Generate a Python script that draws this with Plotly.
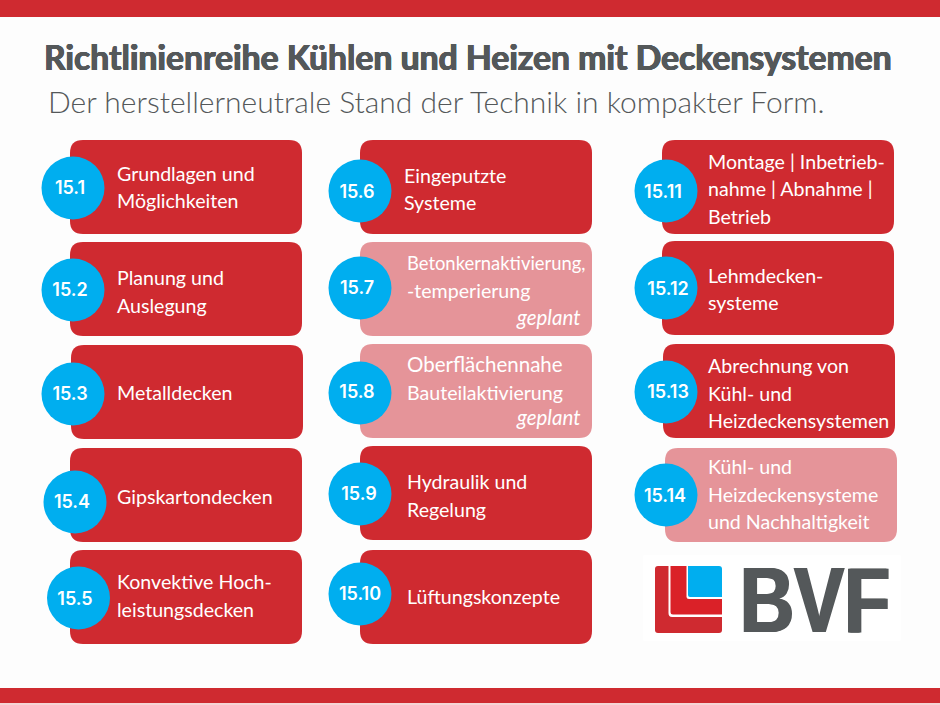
import plotly.graph_objects as go

title = "Richtlinienreihe Kühlen und Heizen mit Deckensystemen"
subtitle = "Der herstellerneutrale Stand der Technik in kompakter Form."

codes = ["15.1", "15.2", "15.3", "15.4", "15.5", "15.6", "15.7", "15.8", "15.9", "15.10",
         "15.11", "15.12", "15.13", "15.14"]
labels = [
    ["Grundlagen und", "Möglichkeiten"],
    ["Planung und", "Auslegung"],
    ["Metalldecken"],
    ["Gipskartondecken"],
    ["Konvektive Hoch-", "leistungsdecken"],
    ["Eingeputzte", "Systeme"],
    ["Betonkernaktivierung,", "-temperierung"],
    ["Oberflächennahe", "Bauteilaktivierung"],
    ["Hydraulik und", "Regelung"],
    ["Lüftungskonzepte"],
    ["Montage | Inbetrieb-", "nahme | Abnahme |", "Betrieb"],
    ["Lehmdecken-", "systeme"],
    ["Abrechnung von", "Kühl- und", "Heizdeckensystemen"],
    ["Kühl- und", "Heizdeckensysteme", "und Nachhaltigkeit"],
]
planned = [False, False, False, False, False, False, True, True, False, False,
           False, False, False, True]
planned_word = "geplant"

# layout of the sheet, in pixels
box_left = [70, 70, 71, 70, 70, 360, 360, 360, 360, 360, 662, 662, 663, 665]
box_top = [140, 242, 345, 448, 550, 140, 242, 344, 446, 550, 140, 241, 344, 448]
box_w, box_h = 232, 94
circle_x = [73, 73, 73, 75, 78.5, 360, 360, 360, 360, 360, 666, 666, 666, 666]
circle_y = [188, 290, 394, 502, 598, 191, 288, 393, 494, 594, 191, 288, 392, 495]
code_x = [70, 70, 70, 72, 75, 357, 357, 357, 359, 360, 663, 668, 668, 665]
code_y = [189, 291, 395, 503, 600, 193, 289, 393, 495, 595, 193, 290, 393, 497]
text_x = [116, 116, 116, 116, 116, 403, 406, 406, 406, 406, 707, 707, 707, 707]
text_y = [[173.3, 200.3], [277.3, 305.3], [392.3], [496.3], [581.3, 609.3], [175, 202.3], [263.3, 290],
          [364.3, 392.3], [481.3, 509.3], [596.3], [161.3, 188.3, 216.3], [275.3, 302.3],
          [365.3, 393.3, 420.3], [466.3, 494.3, 521.3]]
planned_y = {6: 317, 7: 417}
line_sizes = {"Betonkernaktivierung,": 18.4, "Oberflächennahe": 20.5}

RED = "#cf2a30"
PALE = "#e59499"
BLUE = "#00aeef"
GREY = "#54585a"
FONT = "Lato"


def rounded(x0, y0, x1, y1, r):
    return (f"M {x0+r} {y0} L {x1-r} {y0} Q {x1} {y0} {x1} {y0+r} L {x1} {y1-r} "
            f"Q {x1} {y1} {x1-r} {y1} L {x0+r} {y1} Q {x0} {y1} {x0} {y1-r} "
            f"L {x0} {y0+r} Q {x0} {y0} {x0+r} {y0} Z")


def filled(path, color):
    return dict(type="path", path=path, fillcolor=color, line_width=0, layer="below")


shapes = [filled(rounded(-14, 17, 954, 688, 14), "#fdfdfd"),
          dict(type="rect", x0=0, x1=940, y0=703, y1=705, fillcolor="#f6d5d6", line_width=0, layer="below")]
for i in range(len(codes)):
    color = PALE if planned[i] else RED
    shapes.append(filled(rounded(box_left[i], box_top[i], box_left[i] + box_w, box_top[i] + box_h, 13), color))

# logo
shapes += [
    filled(rounded(643, 555, 901, 641, 2), "#ffffff"),
    filled(rounded(655, 566, 722, 633, 3), "#cf2a30"),
    filled("M 668.5 566 L 722 566 L 722 617 L 672 617 Q 668.5 617 668.5 613 Z", "#ffffff"),
    filled("M 670.5 566 L 720 566 Q 722 566 722 568 L 722 614.5 L 673 614.5 Q 670.5 614.5 670.5 612 Z", "#da2128"),
    filled("M 686.5 566 L 722 566 L 722 599 L 689 599 Q 686.5 599 686.5 597 Z", "#ffffff"),
    filled("M 688 566 L 719 566 Q 722 566 722 569 L 722 597 L 690 597 Q 688 597 688 595 Z", BLUE),
]

annotations = []


def put(text, x, y, size, color, anchor="left", family=FONT, **font):
    annotations.append(dict(text=text, x=x, y=y, xref="x", yref="y", xanchor=anchor, yanchor="middle",
                            showarrow=False, borderpad=0,
                            font=dict(family=family, size=size, color=color, **font)))


thick = f"0.6px 0 0 {GREY}, -0.6px 0 0 {GREY}, 0 0.4px 0 {GREY}, 0 -0.4px 0 {GREY}"
put(title, 42.5, 56.5, 33.7, GREY, weight="bold", shadow=thick)
put(subtitle, 46.5, 101, 30, GREY, weight=300)
for i, lines in enumerate(labels):
    for line, y in zip(lines, text_y[i]):
        put(line, text_x[i], y, line_sizes.get(line, 19.6), "#ffffff")
    if i in planned_y:
        put(planned_word, 581, planned_y[i], 20.5, "#ffffff", anchor="right", style="italic")
put("BVF", 815, 600, 93, GREY, anchor="center", family="Liberation Sans", weight="bold",
    shadow=f"1.5px 0 0 {GREY}, -1.5px 0 0 {GREY}")

fig = go.Figure()
fig.add_trace(go.Scatter(x=circle_x, y=circle_y, mode="markers",
                         marker=dict(size=63, color=BLUE, line_width=0), hoverinfo="skip"))
fig.add_trace(go.Scatter(x=code_x, y=code_y, mode="text", text=codes, textposition="middle center",
                         textfont=dict(family="Inter", size=18, color="#ffffff", weight=600), hoverinfo="skip"))

fig.update_layout(
    width=940,
    height=705,
    margin=dict(l=0, r=0, t=0, b=0),
    paper_bgcolor=RED,
    plot_bgcolor=RED,
    showlegend=False,
    xaxis=dict(range=[0, 940], visible=False, fixedrange=True),
    yaxis=dict(range=[705, 0], visible=False, fixedrange=True),
    shapes=shapes,
    annotations=annotations,
)

# the logo lettering is narrower than any installed bold
squeeze = """
document.body.style.margin = '0';
document.querySelectorAll('.annotation-text').forEach(function (t) {
  if (t.textContent === 'BVF') {
    t.setAttribute('textLength', '150');
    t.setAttribute('lengthAdjust', 'spacingAndGlyphs');
  }
});
"""
fig.write_html("out.html", config=dict(displayModeBar=False), post_script=squeeze)
